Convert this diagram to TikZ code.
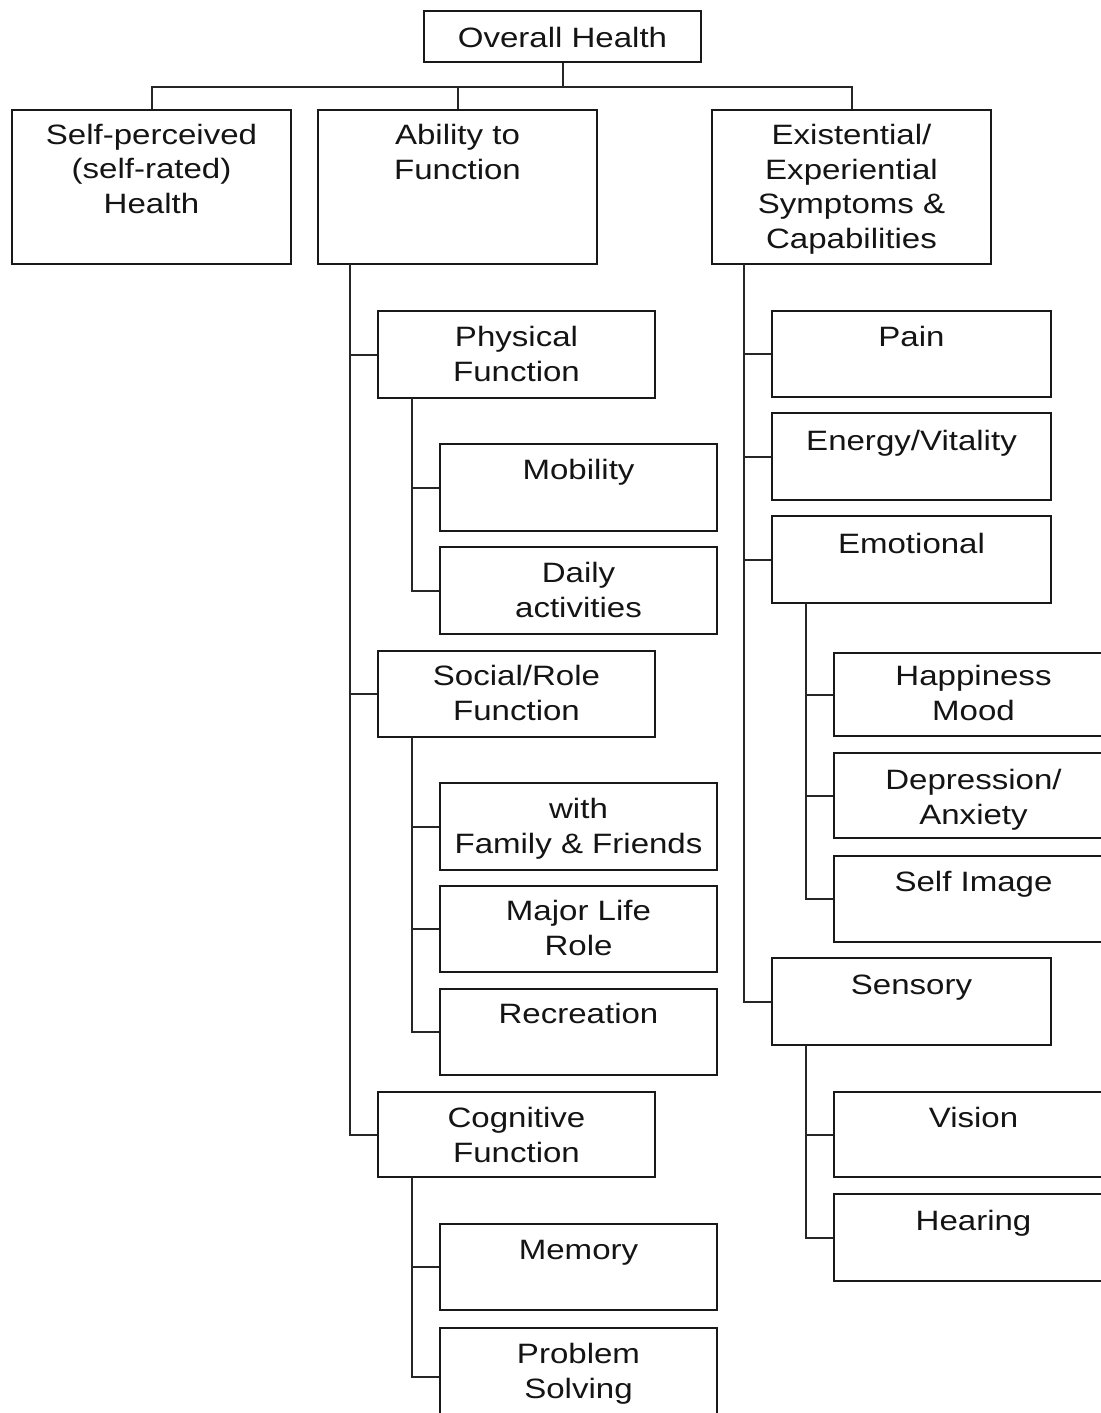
\documentclass[tikz,border=0pt]{standalone}
\usepackage{fontspec}
\setmainfont{Liberation Sans}[FakeStretch=1.18]
\usetikzlibrary{fit,calc}
\tikzset{
  boxst/.style={draw=black!90, line width=1pt, inner sep=0pt, rectangle},
  txt/.style={align=center, inner sep=0pt, text=black!92, font=\fontsize{14}{17.3}\selectfont},
  conn/.style={draw=black!85, line width=1pt}
}
\newcommand\mkbox[7]{%
  \node[boxst, fit={(#2,#3) (#4,#5)}] (#1) {};
  \node[txt, anchor=north] (#1-t) at ({(#2+#4)/2},{#6-14}) {\rule{0pt}{12pt}#7};}
\begin{document}
\begin{tikzpicture}[x=0.5pt, y=-0.5pt]
\useasboundingbox (0,0) rectangle (1101,1413);
\clip (0,0) rectangle (1101,1413);
% top level
\mkbox{top}{424}{11}{701}{62}{37}{Overall Health}
\mkbox{self}{12}{110}{291}{264}{134}{Self-perceived\\(self-rated)\\Health}
\mkbox{abil}{318}{110}{597}{264}{134}{Ability to\\Function}
\mkbox{exist}{712}{110}{991}{264}{134}{Existential/\\Experiential\\Symptoms \&\\Capabilities}
% ability branch
\mkbox{phys}{378}{311}{655}{398}{336}{Physical\\Function}
\mkbox{mob}{440}{444}{717}{531}{469}{Mobility}
\mkbox{daily}{440}{547}{717}{634}{572}{Daily\\activities}
\mkbox{soc}{378}{651}{655}{737}{675}{Social/Role\\Function}
\mkbox{fam}{440}{783}{717}{870}{808}{with\\Family \& Friends}
\mkbox{major}{440}{886}{717}{972}{910}{Major Life\\Role}
\mkbox{rec}{440}{989}{717}{1075}{1013}{Recreation}
\mkbox{cog}{378}{1092}{655}{1177}{1117}{Cognitive\\Function}
\mkbox{mem}{440}{1224}{717}{1310}{1249}{Memory}
\mkbox{prob}{440}{1328}{717}{1425}{1353}{Problem\\Solving}
% existential branch
\mkbox{pain}{772}{311}{1051}{397}{336}{Pain}
\mkbox{energy}{772}{413}{1051}{500}{440}{Energy/Vitality}
\mkbox{emo}{772}{516}{1051}{603}{543}{Emotional}
\mkbox{happy}{834}{653}{1113}{736}{675}{Happiness\\Mood}
\mkbox{dep}{834}{753}{1113}{838}{779}{Depression/\\Anxiety}
\mkbox{simg}{834}{856}{1113}{942}{881}{Self Image}
\mkbox{sens}{772}{958}{1051}{1045}{984}{Sensory}
\mkbox{vis}{834}{1092}{1113}{1177}{1117}{Vision}
\mkbox{hear}{834}{1194}{1113}{1281}{1220}{Hearing}
% top connectors
\coordinate (bus) at (562.5,87);
\draw[conn] (top.south) -- (bus);
\draw[conn] (self.north) |- (bus) -| (exist.north);
\draw[conn] (abil.north) -- (abil.north |- bus);
% ability trunk
\coordinate (a0) at (350,264);
\draw[conn] (a0) |- (cog.west);
\draw[conn] (phys.west) -- (phys.west -| a0);
\draw[conn] (soc.west) -- (soc.west -| a0);
\coordinate (p0) at (412,398);
\draw[conn] (p0) |- (daily.west);
\draw[conn] (mob.west) -- (mob.west -| p0);
\coordinate (s0) at (412,737);
\draw[conn] (s0) |- (rec.west);
\draw[conn] (fam.west) -- (fam.west -| s0);
\draw[conn] (major.west) -- (major.west -| s0);
\coordinate (c0) at (412,1177);
\draw[conn] (c0) |- (prob.west);
\draw[conn] (mem.west) -- (mem.west -| c0);
% existential trunk
\coordinate (e0) at (744,264);
\draw[conn] (e0) |- (sens.west);
\draw[conn] (pain.west) -- (pain.west -| e0);
\draw[conn] (energy.west) -- (energy.west -| e0);
\draw[conn] (emo.west) -- (emo.west -| e0);
\coordinate (m0) at (806,603);
\draw[conn] (m0) |- (simg.west);
\draw[conn] (happy.west) -- (happy.west -| m0);
\draw[conn] (dep.west) -- (dep.west -| m0);
\coordinate (n0) at (806,1045);
\draw[conn] (n0) |- (hear.west);
\draw[conn] (vis.west) -- (vis.west -| n0);
\end{tikzpicture}
\end{document}
